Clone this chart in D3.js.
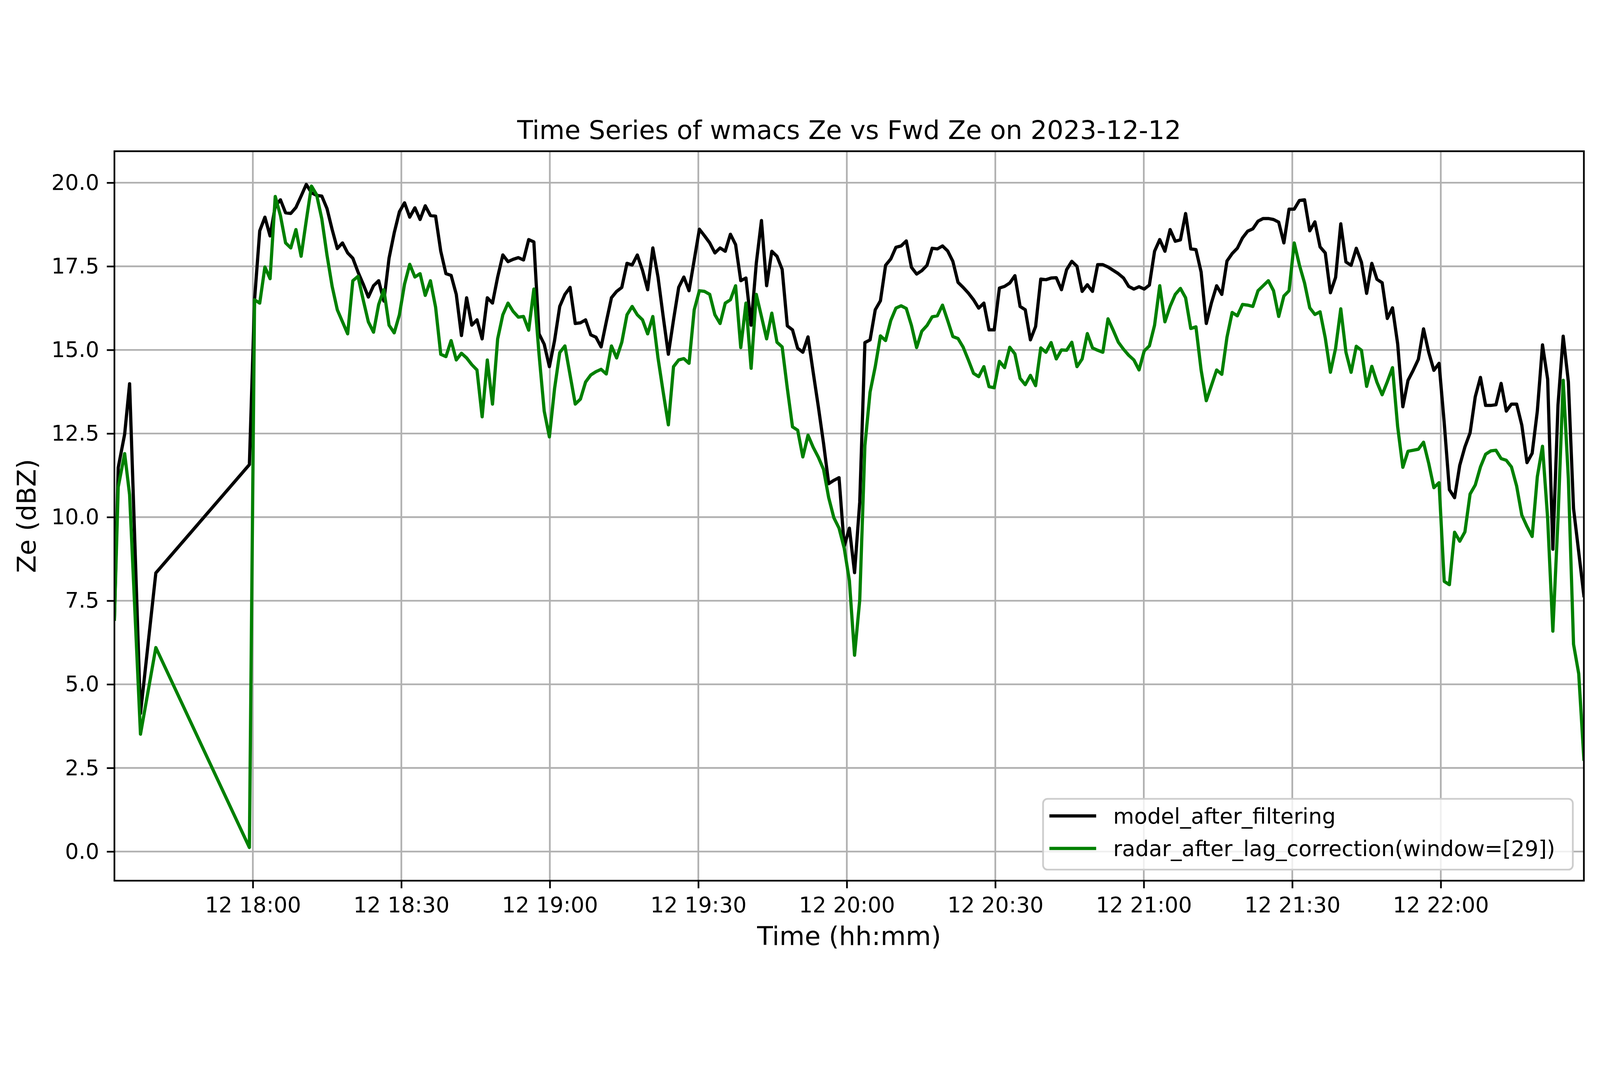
<!DOCTYPE html>
<html>
<head>
<meta charset="utf-8">
<script src="https://cdn.jsdelivr.net/npm/d3@7"></script>
<style>
    html, body { margin: 0; padding: 0; background: #ffffff; overflow: hidden; }
    #chart { display: block; width: 100vw; height: 100vh; }
    text { font-family: "DejaVu Sans", sans-serif; }
</style>
</head>
<body>
<svg id="chart"></svg>
<script>
"use strict"

const DAY = "2023-12-12"

// sparse readings before the data gap
const earlyTimes = ["17:32:02", "17:32:48", "17:34:06", "17:35:06", "17:37:18", "17:40:24"]
const earlyModel = [6.95, 11.48, 12.48, 13.99, 4.13, 8.33]
const earlyRadar = [6.95, 10.9, 11.9, 10.67, 3.51, 6.1]

// regular readings after the gap
const mainStart = "17:59:18"
const mainStepSeconds = 62.7

const mainModel = [
    11.57, 16.5, 18.56, 18.97, 18.41, 19.3, 19.49, 19.1, 19.08, 19.26,
    19.6, 19.95, 19.7, 19.62, 19.6, 19.23, 18.6, 18.03, 18.2, 17.9,
    17.74, 17.33, 16.97, 16.58, 16.92, 17.07, 16.46, 17.74, 18.5, 19.13,
    19.4, 18.97, 19.25, 18.9, 19.31, 19.02, 19.0, 17.95, 17.28, 17.23,
    16.66, 15.43, 16.56, 15.74, 15.9, 15.33, 16.56, 16.4, 17.18, 17.84,
    17.64, 17.71, 17.76, 17.69, 18.3, 18.23, 15.48, 15.17, 14.5, 15.28,
    16.3, 16.66, 16.87, 15.79, 15.81, 15.9, 15.45, 15.38, 15.09, 15.84,
    16.56, 16.75, 16.87, 17.59, 17.54, 17.84, 17.38, 16.8, 18.05, 17.18,
    16.0, 14.87, 15.9, 16.87, 17.18, 16.77, 17.69, 18.61, 18.41, 18.2,
    17.9, 18.05, 17.95, 18.46, 18.15, 17.07, 17.15, 15.74, 17.59, 18.87,
    16.92, 17.95, 17.8, 17.41, 15.72, 15.6, 15.05, 14.93, 15.39, 14.33,
    13.3, 12.21, 11.0, 11.1, 11.18, 9.13, 9.67, 8.34, 10.45, 15.22,
    15.3, 16.2, 16.47, 17.53, 17.72, 18.07, 18.11, 18.26, 17.47, 17.27,
    17.37, 17.53, 18.04, 18.02, 18.11, 17.96, 17.65, 17.02, 16.87, 16.7,
    16.5, 16.25, 16.4, 15.6, 15.6, 16.85, 16.9, 17.0, 17.22, 16.3,
    16.2, 15.3, 15.7, 17.12, 17.1, 17.15, 17.16, 16.8, 17.4, 17.65,
    17.5, 16.75, 16.95, 16.75, 17.55, 17.55, 17.48, 17.38, 17.28, 17.15,
    16.9, 16.82, 16.89, 16.82, 16.94, 17.95, 18.3, 17.95, 18.6, 18.25,
    18.29, 19.08, 18.02, 18.0, 17.33, 15.79, 16.41, 16.92, 16.66, 17.66,
    17.88, 18.04, 18.35, 18.55, 18.62, 18.85, 18.93, 18.93, 18.9, 18.82,
    18.2, 19.21, 19.21, 19.47, 19.49, 18.56, 18.83, 18.08, 17.9, 16.71,
    17.17, 18.77, 17.63, 17.53, 18.04, 17.62, 16.69, 17.59, 17.11, 17.01,
    15.94, 16.26, 15.18, 13.3, 14.09, 14.39, 14.72, 15.63, 14.93, 14.39,
    14.6, 12.82, 10.82, 10.58, 11.55, 12.1, 12.52, 13.6, 14.18, 13.34,
    13.34, 13.36, 14.0, 13.17, 13.38, 13.38, 12.75, 11.63, 11.91, 13.17,
    15.15, 14.12, 9.04, 13.36, 15.41, 14.05, 10.26, 8.96, 7.65
]

const mainRadar = [
    0.12, 16.5, 16.4, 17.48, 17.13, 19.59, 19.02, 18.2, 18.05, 18.6,
    17.8, 18.87, 19.9, 19.64, 18.92, 17.84, 16.9, 16.2, 15.84, 15.48,
    17.07, 17.2, 16.5, 15.84, 15.53, 16.36, 16.8, 15.74, 15.51, 16.05,
    16.97, 17.56, 17.18, 17.28, 16.63, 17.07, 16.28, 14.87, 14.8, 15.28,
    14.7, 14.9, 14.76, 14.56, 14.4, 13.0, 14.7, 13.38, 15.33, 16.05,
    16.4, 16.15, 15.98, 16.0, 15.59, 16.82, 14.87, 13.17, 12.4, 13.84,
    14.92, 15.12, 14.25, 13.38, 13.53, 14.04, 14.25, 14.35, 14.42, 14.28,
    15.12, 14.76, 15.23, 16.05, 16.3, 16.05, 15.9, 15.48, 16.0, 14.76,
    13.74, 12.76, 14.5, 14.7, 14.74, 14.6, 16.2, 16.77, 16.75, 16.66,
    16.05, 15.79, 16.4, 16.5, 16.92, 15.07, 16.4, 14.45, 16.66, 16.0,
    15.33, 16.1, 15.23, 15.09, 13.85, 12.7, 12.6, 11.8, 12.45, 12.09,
    11.79, 11.43, 10.58, 9.98, 9.67, 9.07, 8.1, 5.87, 7.52, 12.14,
    13.74, 14.5, 15.42, 15.28, 15.88, 16.25, 16.32, 16.24, 15.73, 15.07,
    15.56, 15.73, 15.99, 16.02, 16.34, 15.88, 15.4, 15.34, 15.08, 14.7,
    14.3, 14.2, 14.5, 13.9, 13.87, 14.66, 14.47, 15.08, 14.88, 14.15,
    13.96, 14.24, 13.93, 15.06, 14.93, 15.22, 14.73, 15.0, 14.99, 15.23,
    14.5, 14.73, 15.49, 15.06, 14.99, 14.93, 15.93, 15.59, 15.23, 15.02,
    14.84, 14.7, 14.4, 14.97, 15.12, 15.74, 16.92, 15.84, 16.3, 16.66,
    16.84, 16.56, 15.64, 15.69, 14.4, 13.48, 13.94, 14.4, 14.27, 15.38,
    16.12, 16.02, 16.36, 16.34, 16.3, 16.77, 16.92, 17.07, 16.77, 16.0,
    16.61, 16.77, 18.2, 17.54, 17.0, 16.26, 16.06, 16.14, 15.36, 14.33,
    15.05, 16.23, 14.93, 14.33, 15.11, 14.99, 13.91, 14.51, 14.03, 13.66,
    14.05, 14.47, 12.7, 11.49, 11.97, 12.0, 12.03, 12.24, 11.61, 10.88,
    11.03, 8.08, 7.98, 9.55, 9.28, 9.56, 10.69, 10.96, 11.5, 11.88,
    11.98, 12.0, 11.75, 11.7, 11.5, 10.93, 10.06, 9.72, 9.42, 11.21,
    12.12, 9.95, 6.59, 9.95, 14.09, 11.15, 6.2, 5.32, 2.76
]

const yTickValues = [0, 2.5, 5, 7.5, 10, 12.5, 15, 17.5, 20]
const seriesNames = ["model_after_filtering", "radar_after_lag_correction(window=[29])"]

const titleText = "Time Series of wmacs Ze vs Fwd Ze on " + DAY
const xLabelText = "Time (hh:mm)"
const yLabelText = "Ze (dBZ)"


// ---- layout (drawn in a 5062 x 2740 viewBox, scaled to the window) ----
const WIDTH = 5062
const HEIGHT = 2740
const plot = { left: 362, right: 5011, top: 155.5, bottom: 2464 }

const TICK_FONT = 68
const LABEL_FONT = 82
const THIN = 5.4
const GRID = "#b0b0b0"

const parseTime = d3.timeParse("%Y-%m-%d %H:%M:%S")

const earlyDates = earlyTimes.map(t => parseTime(DAY + " " + t))
const startDate = parseTime(DAY + " " + mainStart)
const mainDates = mainModel.map((d, i) => new Date(startDate.getTime() + i * mainStepSeconds * 1000))

const times = earlyDates.concat(mainDates)
const series = [
    { name: seriesNames[0], color: "#000000", values: earlyModel.concat(mainModel) },
    { name: seriesNames[1], color: "#008000", values: earlyRadar.concat(mainRadar) },
]

const allValues = series.flatMap(s => s.values)
const yMin = d3.min(allValues)
const yMax = d3.max(allValues)
const yPad = (yMax - yMin) * 0.05

const x = d3.scaleTime()
    .domain(d3.extent(times))
    .range([plot.left, plot.right])

const y = d3.scaleLinear()
    .domain([yMin - yPad, yMax + yPad])
    .range([plot.bottom, plot.top])

const xTickValues = d3.timeMinute.every(30).range(x.domain()[0], x.domain()[1])

const svg = d3.select("#chart")
    .attr("viewBox", [0, 0, WIDTH, HEIGHT])
    .attr("preserveAspectRatio", "xMidYMid meet")

svg.append("rect")
    .attr("width", WIDTH)
    .attr("height", HEIGHT)
    .attr("fill", "#ffffff")

svg.append("clipPath")
    .attr("id", "plot-clip")
    .append("rect")
    .attr("x", plot.left)
    .attr("y", plot.top)
    .attr("width", plot.right - plot.left)
    .attr("height", plot.bottom - plot.top)

// grid
const grid = svg.append("g")
    .attr("stroke", GRID)
    .attr("stroke-width", THIN)

grid.selectAll(".gx")
    .data(xTickValues)
    .join("line")
    .attr("x1", d => x(d))
    .attr("x2", d => x(d))
    .attr("y1", plot.top)
    .attr("y2", plot.bottom)

grid.selectAll(".gy")
    .data(yTickValues)
    .join("line")
    .attr("x1", plot.left)
    .attr("x2", plot.right)
    .attr("y1", d => y(d))
    .attr("y2", d => y(d))

// lines
const line = d3.line()
    .x((d, i) => x(times[i]))
    .y(d => y(d))

svg.append("g")
    .attr("clip-path", "url(#plot-clip)")
    .selectAll("path")
    .data(series)
    .join("path")
    .attr("fill", "none")
    .attr("stroke", d => d.color)
    .attr("stroke-width", 10.2)
    .attr("stroke-linejoin", "round")
    .attr("stroke-linecap", "square")
    .attr("d", d => line(d.values))

// axes
function styleAxis(g) {
    g.select(".domain").remove()
    g.attr("font-family", null).attr("font-size", null)
    g.selectAll(".tick line")
        .attr("stroke", "#000000")
        .attr("stroke-width", THIN)
    g.selectAll(".tick text")
        .attr("fill", "#000000")
        .style("font-size", TICK_FONT + "px")
}

svg.append("g")
    .attr("transform", `translate(0,${plot.bottom})`)
    .call(d3.axisBottom(x)
        .tickValues(xTickValues)
        .tickFormat(d3.timeFormat("%d %H:%M"))
        .tickSize(24)
        .tickSizeOuter(0)
        .tickPadding(27))
    .call(styleAxis)

svg.append("g")
    .attr("transform", `translate(${plot.left},0)`)
    .call(d3.axisLeft(y)
        .tickValues(yTickValues)
        .tickFormat(d3.format(".1f"))
        .tickSize(24)
        .tickSizeOuter(0)
        .tickPadding(24))
    .call(styleAxis)

// spines
svg.append("rect")
    .attr("x", plot.left)
    .attr("y", plot.top)
    .attr("width", plot.right - plot.left)
    .attr("height", plot.bottom - plot.top)
    .attr("fill", "none")
    .attr("stroke", "#000000")
    .attr("stroke-width", THIN)

// title and labels
svg.append("text")
    .attr("x", (plot.left + plot.right) / 2)
    .attr("y", 117)
    .attr("text-anchor", "middle")
    .style("font-size", LABEL_FONT + "px")
    .text(titleText)

svg.append("text")
    .attr("x", (plot.left + plot.right) / 2)
    .attr("y", 2668)
    .attr("text-anchor", "middle")
    .style("font-size", LABEL_FONT + "px")
    .text(xLabelText)

svg.append("text")
    .attr("transform", `translate(112,${(plot.top + plot.bottom) / 2}) rotate(-90)`)
    .attr("text-anchor", "middle")
    .style("font-size", LABEL_FONT + "px")
    .text(yLabelText)

// legend (lower right)
const legend = svg.append("g")
    .attr("transform", "translate(3300,2205)")

legend.append("rect")
    .attr("width", 1676)
    .attr("height", 224)
    .attr("rx", 14)
    .attr("fill", "#ffffff")
    .attr("fill-opacity", 0.8)
    .attr("stroke", "#cccccc")
    .attr("stroke-width", 5.4)

const rows = legend.selectAll(".row")
    .data(series)
    .join("g")
    .attr("transform", (d, i) => `translate(0,${54 + i * 103})`)

rows.append("line")
    .attr("x1", 20)
    .attr("x2", 168)
    .attr("stroke", d => d.color)
    .attr("stroke-width", 10.2)

rows.append("text")
    .attr("x", 222)
    .attr("dy", "0.35em")
    .style("font-size", TICK_FONT + "px")
    .text(d => d.name)
</script>
</body>
</html>
